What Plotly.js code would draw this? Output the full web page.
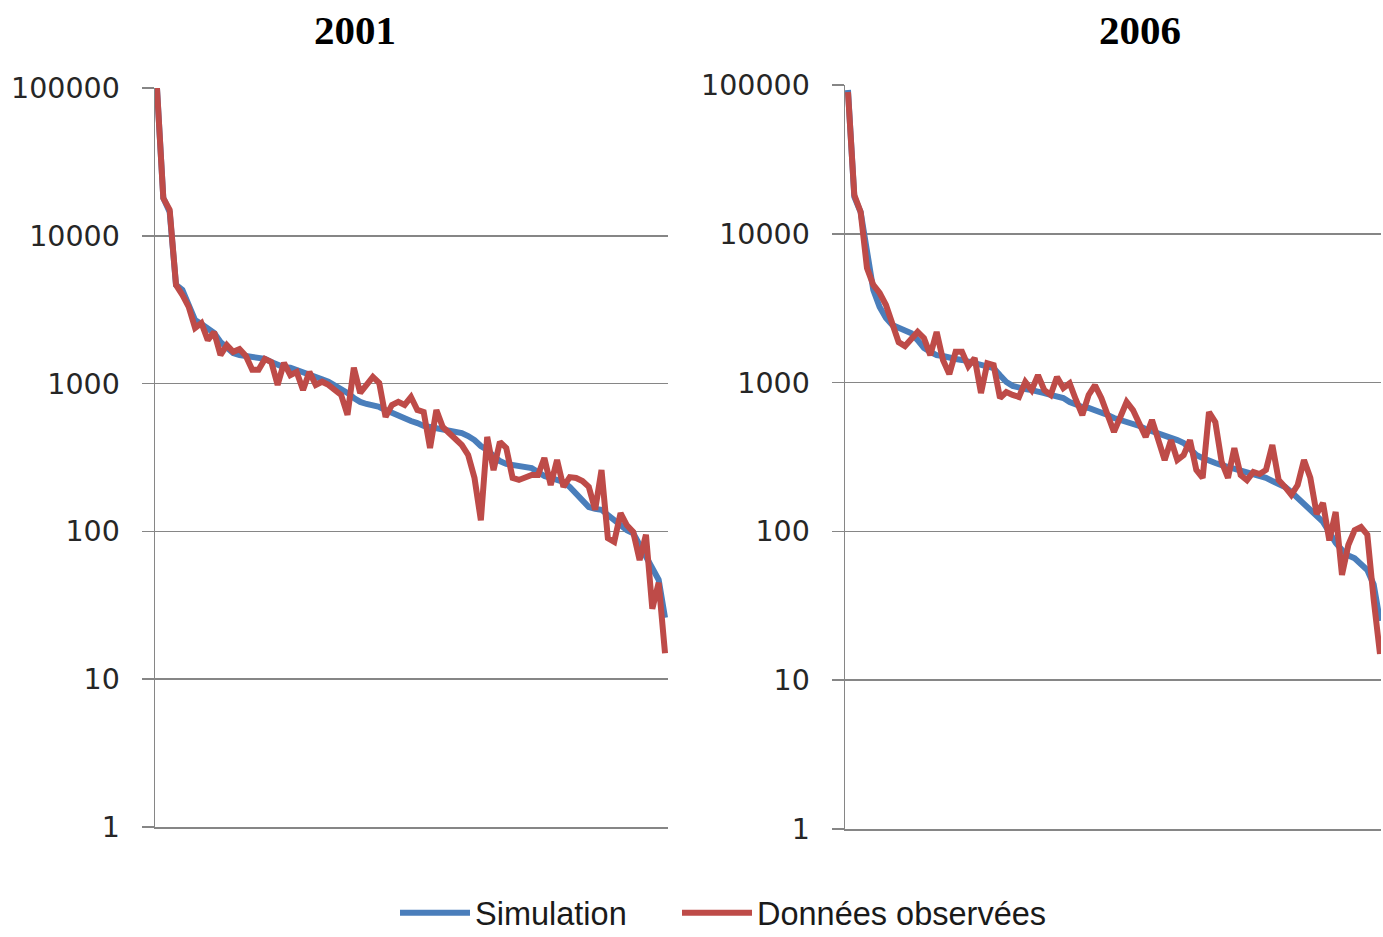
<!DOCTYPE html>
<html>
<head>
<meta charset="utf-8">
<script src="https://cdn.plot.ly/plotly-3.0.1.min.js"></script>
<style>html,body{margin:0;padding:0;background:#fff;}#chart{width:1383px;height:937px;}</style>
</head>
<body>
<div id="chart"></div>
<script>
// ---- data ----
const titles = ["2001", "2006"];
const seriesNames = ["Simulation", "Données observées"];
const tickValues = [1, 10, 100, 1000, 10000, 100000];
const tickLabels = ["1", "10", "100", "1000", "10000", "100000"];

const sim2001 = [100000, 18000, 14500, 4650, 4300, 3400, 2690, 2530, 2380, 2200, 1910, 1740, 1610, 1560, 1540, 1510, 1490, 1470, 1400, 1340,
  1290, 1280, 1240, 1200, 1160, 1130, 1070, 1030, 980, 920, 865, 800, 752, 728, 717, 695, 663, 632, 614, 585,
  558, 541, 517, 509, 501, 493, 485, 478, 463, 442, 415, 378, 356, 324, 299, 286, 281, 277, 273, 268,
  252, 237, 230, 223, 216, 200, 179, 163, 146, 142, 140, 129, 119, 110, 102, 97, 81, 69, 57, 47, 26];
const obs2001 = [100000, 18000, 15000, 4650, 3980, 3300, 2380, 2570, 1970, 2230, 1560, 1820, 1640, 1710, 1540, 1240, 1240, 1470, 1400, 980,
  1380, 1140, 1200, 905, 1200, 980, 1030, 980, 905, 838, 614, 1280, 865, 980, 1110, 1010, 595, 717, 752, 717,
  812, 663, 643, 367, 663, 509, 463, 429, 384, 329, 230, 119, 436, 260, 403, 367, 230, 223, 230, 241,
  241, 314, 206, 304, 200, 233, 230, 219, 200, 140, 260, 90, 85, 133, 110, 99, 64, 95, 30, 45, 15];

const sim2006 = [92500, 17700, 14000, 7200, 4190, 3220, 2720, 2440, 2330, 2260, 2150, 1930, 1710, 1610, 1530, 1510, 1460, 1440, 1420, 1380,
  1350, 1330, 1290, 1250, 1120, 1010, 950, 920, 905, 890, 878, 851, 826, 800, 788, 741, 707, 686, 675, 654,
  625, 606, 578, 561, 552, 535, 511, 488, 473, 458, 444, 431, 411, 393, 358, 326, 311, 297, 288, 279,
  271, 263, 255, 251, 243, 236, 229, 218, 208, 199, 184, 168, 150, 139, 127, 116, 99, 84, 75, 69,
  66, 61, 55, 44, 25];
const obs2006 = [89800, 18200, 14000, 5890, 4530, 4000, 3320, 2550, 1870, 1760, 1990, 2190, 1990, 1530, 2190, 1420, 1140, 1610, 1610, 1290,
  1460, 851, 1350, 1310, 788, 865, 826, 800, 1010, 890, 1120, 890, 826, 1090, 920, 990, 764, 606, 826, 960,
  788, 606, 466, 587, 741, 654, 543, 431, 561, 411, 302, 411, 302, 326, 411, 259, 229, 634, 543, 293,
  229, 363, 239, 221, 251, 243, 259, 381, 221, 199, 176, 205, 302, 229, 131, 155, 87, 135, 51, 81,
  102, 107, 95, 35, 15];

// ---- build chart ----
const rank = n => Array.from({length: n}, (_, i) => i);
const BLUE = "#4A7EBB", RED = "#BE4B48";
const W = 1383, H = 937;
const LW = 6;

const traces = [
  {x: rank(sim2001.length), y: sim2001, name: seriesNames[0], type: "scatter", mode: "lines",
   line: {color: BLUE, width: LW}, xaxis: "x", yaxis: "y", legend: "legend"},
  {x: rank(obs2001.length), y: obs2001, name: seriesNames[1], type: "scatter", mode: "lines",
   line: {color: RED, width: LW}, xaxis: "x", yaxis: "y", legend: "legend2"},
  {x: rank(sim2006.length), y: sim2006, name: seriesNames[0], type: "scatter", mode: "lines", showlegend: false,
   line: {color: BLUE, width: LW}, xaxis: "x2", yaxis: "y2"},
  {x: rank(obs2006.length), y: obs2006, name: seriesNames[1], type: "scatter", mode: "lines", showlegend: false,
   line: {color: RED, width: LW}, xaxis: "x2", yaxis: "y2"}
];

const GRID = "#868686";
const yax = (dom) => ({
  type: "log", range: [0, 5], domain: dom,
  tickvals: tickValues, ticktext: tickLabels,
  showgrid: true, gridcolor: GRID, gridwidth: 1.5,
  showline: true, linecolor: GRID, linewidth: 1.5,
  ticks: "outside", ticklen: 12, tickcolor: GRID, tickwidth: 1.5,
  ticklabelstandoff: 16,
  tickfont: {family: "DejaVu Sans", size: 28.5, color: "#262626"},
  zeroline: false, fixedrange: true, automargin: false
});
const xax = (dom, rng) => ({
  domain: dom, range: rng, showgrid: false, zeroline: false,
  showticklabels: false, ticks: "",
  showline: true, linecolor: GRID, linewidth: 1.5, fixedrange: true, automargin: false
});
const leg = (xpx) => ({
  orientation: "h", x: xpx / W, xanchor: "left", y: 1 - 913 / H, yanchor: "middle",
  font: {family: "Liberation Sans", size: 32.5, color: "#1a1a1a"},
  itemwidth: 70, bgcolor: "rgba(0,0,0,0)"
});

const layout = {
  width: W, height: H,
  margin: {l: 0, r: 0, t: 0, b: 0, autoexpand: false},
  paper_bgcolor: "#fff", plot_bgcolor: "#fff",
  showlegend: true,
  xaxis: xax([155 / W, 668 / W], [-0.31, 80.47]),
  yaxis: yax([1 - 827 / H, 1 - 88 / H]),
  xaxis2: xax([845 / W, 1381 / W], [-0.47, 84.16]),
  yaxis2: yax([1 - 829 / H, 1 - 85 / H]),
  legend: leg(395),
  legend2: leg(677),
  annotations: [
    {text: "<b>" + titles[0] + "</b>", xref: "paper", yref: "paper", x: 355 / W, y: 1 - 30 / H,
     xanchor: "center", yanchor: "middle", showarrow: false,
     font: {family: "Liberation Serif", size: 41, color: "#000"}},
    {text: "<b>" + titles[1] + "</b>", xref: "paper", yref: "paper", x: 1140 / W, y: 1 - 30 / H,
     xanchor: "center", yanchor: "middle", showarrow: false,
     font: {family: "Liberation Serif", size: 41, color: "#000"}}
  ]
};
layout.yaxis2.anchor = "x2";
layout.xaxis2.anchor = "y2";

Plotly.newPlot("chart", traces, layout, {staticPlot: true, displayModeBar: false});
</script>
</body>
</html>
